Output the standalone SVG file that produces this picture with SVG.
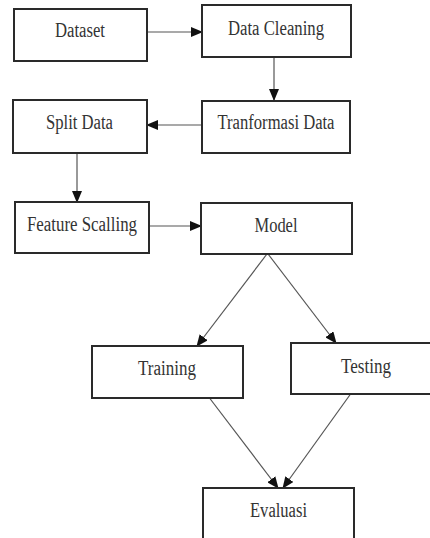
<svg xmlns="http://www.w3.org/2000/svg" width="430" height="538" viewBox="0 0 430 538">
<style>
.box{fill:#fff;stroke:#2a2a2a;stroke-width:2}
.lbl{font-family:"Liberation Serif","Times New Roman",serif;font-size:20px;fill:#333;text-anchor:middle}
.con{stroke:#555;stroke-width:1.2;fill:none;marker-end:url(#ah)}
</style>
<defs>
<marker id="ah" markerUnits="userSpaceOnUse" markerWidth="12" markerHeight="10" viewBox="0 0 12 10" refX="11" refY="5" orient="auto">
<path d="M0,0 L12,5 L0,10 Z" fill="#111"/>
</marker>
</defs>
<rect width="430" height="538" fill="#fff"/>
<g id="connectors">
<line class="con" x1="147" y1="32" x2="202" y2="32"/>
<line class="con" x1="274" y1="57" x2="274" y2="100"/>
<line class="con" x1="202" y1="125" x2="147" y2="125"/>
<line class="con" x1="77" y1="153" x2="77" y2="202"/>
<line class="con" x1="149" y1="226" x2="201" y2="226"/>
<line class="con" x1="267" y1="254" x2="197" y2="346"/>
<line class="con" x1="268" y1="254" x2="336" y2="343"/>
<line class="con" x1="208" y1="396" x2="278" y2="488"/>
<line class="con" x1="352" y1="392" x2="283" y2="488"/>
</g>
<g id="dataset"><rect class="box" x="14" y="9" width="133" height="52"/><text class="lbl" x="80" y="37" textLength="50" lengthAdjust="spacingAndGlyphs">Dataset</text></g>
<g id="data-cleaning"><rect class="box" x="202" y="5" width="149" height="52"/><text class="lbl" x="276" y="35" textLength="96" lengthAdjust="spacingAndGlyphs">Data Cleaning</text></g>
<g id="split-data"><rect class="box" x="13" y="100" width="134" height="53"/><text class="lbl" x="79.5" y="129" textLength="67" lengthAdjust="spacingAndGlyphs">Split Data</text></g>
<g id="tranformasi-data"><rect class="box" x="202" y="101" width="148" height="52"/><text class="lbl" x="276" y="129" textLength="117" lengthAdjust="spacingAndGlyphs">Tranformasi Data</text></g>
<g id="feature-scalling"><rect class="box" x="15" y="202" width="134" height="51"/><text class="lbl" x="82" y="231" textLength="110" lengthAdjust="spacingAndGlyphs">Feature Scalling</text></g>
<g id="model"><rect class="box" x="201" y="203" width="151" height="51"/><text class="lbl" x="276" y="232" textLength="43" lengthAdjust="spacingAndGlyphs">Model</text></g>
<g id="training"><rect class="box" x="92" y="346" width="151" height="52"/><text class="lbl" x="167" y="375" textLength="58" lengthAdjust="spacingAndGlyphs">Training</text></g>
<g id="testing"><rect class="box" x="291" y="343" width="150" height="51"/><text class="lbl" x="366" y="373" textLength="50" lengthAdjust="spacingAndGlyphs">Testing</text></g>
<g id="evaluasi"><rect class="box" x="203" y="488" width="151" height="60"/><text class="lbl" x="278.5" y="517" textLength="57" lengthAdjust="spacingAndGlyphs">Evaluasi</text></g>
</svg>
